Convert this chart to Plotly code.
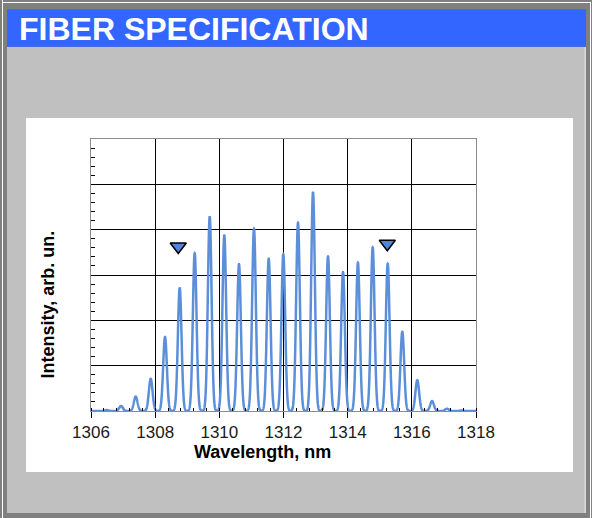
import numpy as np
import plotly.graph_objects as go

# ---- data ----
peak_nm = [1306.49, 1306.935, 1307.393, 1307.861, 1308.307, 1308.765, 1309.232,
           1309.700, 1310.155, 1310.613, 1311.080, 1311.539, 1311.994, 1312.452,
           1312.920, 1313.387, 1313.855, 1314.320, 1314.780, 1315.248, 1315.703,
           1316.170, 1316.630, 1317.096, 1317.550]
peak_int = [0.02, 0.11, 0.32, 0.71, 1.63, 2.71, 3.48, 4.29, 3.87, 3.24, 4.02,
            3.36, 3.46, 4.15, 4.83, 3.41, 3.06, 3.27, 3.61, 3.25, 1.75, 0.68,
            0.22, 0.05, 0.01]
marker_nm = [1308.72, 1315.235]
marker_int = [3.63, 3.69]
x_ticks = [1306, 1308, 1310, 1312, 1314, 1316, 1318]
x_labels = ["1306", "1308", "1310", "1312", "1314", "1316", "1318"]

# spectrum drawn as narrow line shapes at each mode
wl = np.linspace(1306, 1318, 6001)
sigma = 0.058
inten = np.zeros_like(wl)
for c, h in zip(peak_nm, peak_int):
    inten += h * np.exp(-0.5 * ((wl - c) / sigma) ** 2)

W, H = 592, 518
L, R, T, B = 91, 116, 139, 107
PW, PH = W - L - R, H - T - B


def px(x):
    return (x - L) / PW


def py(y):
    return (H - B - y) / PH


def rect(x0, y0, x1, y1, color):
    return dict(type="rect", xref="paper", yref="paper", layer="below",
                x0=px(x0), x1=px(x1), y0=py(y1), y1=py(y0),
                fillcolor=color, line=dict(width=0))


FONT = "Liberation Sans, Arial, sans-serif"

fig = go.Figure()
fig.add_trace(go.Scatter(x=wl, y=inten, mode="lines",
                         line=dict(color="#5b8fd9", width=2.5, simplify=False),
                         hoverinfo="skip", showlegend=False))
fig.add_trace(go.Scatter(x=marker_nm, y=marker_int, mode="markers",
                         marker=dict(symbol="triangle-down", size=14,
                                     color="#4f86d6",
                                     line=dict(color="black", width=1.5)),
                         showlegend=False, cliponaxis=False))

shapes = [
    rect(2, 0, 3, 518, "white"),
    rect(2, 2, 591, 3, "white"),
    rect(590, 2, 591, 518, "white"),
    rect(7, 47, 584.5, 513, "#c0c0c0"),
    rect(584.5, 47, 585.7, 513, "white"),
    rect(7, 9.3, 586, 46.7, "#3366ff"),
    rect(26, 118, 573, 472, "white"),
]

annotations = [
    dict(text="<b>FIBER SPECIFICATION</b>", xref="paper", yref="paper",
         x=px(17), y=py(28.5), xanchor="left", yanchor="middle",
         showarrow=False, font=dict(family=FONT, size=32, color="white")),
    dict(text="<b>Intensity, arb. un.</b>", xref="paper", yref="paper",
         x=px(47.5), y=py(305), xanchor="center", yanchor="middle",
         textangle=-90, showarrow=False,
         font=dict(family=FONT, size=18, color="black")),
    dict(text="<b>Wavelength, nm</b>", xref="paper", yref="paper",
         x=px(262), y=py(452), xanchor="center", yanchor="middle",
         showarrow=False, font=dict(family=FONT, size=18, color="black")),
]

fig.update_layout(
    width=W, height=H,
    margin=dict(l=L, r=R, t=T, b=B, pad=0),
    paper_bgcolor="#808080",
    plot_bgcolor="white",
    shapes=shapes,
    annotations=annotations,
    showlegend=False,
    hovermode=False,
    xaxis=dict(range=[1306, 1318], tickvals=x_ticks, ticktext=x_labels,
               ticks="outside", ticklen=6, tickcolor="black", tickwidth=1,
               tickfont=dict(family=FONT, size=17, color="#1a1a1a"),
               showgrid=True, gridcolor="black", gridwidth=1.3,
               showline=True, linecolor="#8c8c8c", linewidth=1, mirror=True,
               zeroline=False,
               minor=dict(dtick=0.4, tick0=1306, ticks="inside", ticklen=3,
                          tickcolor="black", showgrid=False)),
    yaxis=dict(range=[0, 6], dtick=1, showticklabels=False, ticks="",
               showgrid=True, gridcolor="black", gridwidth=1.3,
               showline=True, linecolor="#8c8c8c", linewidth=1, mirror=True,
               zeroline=False,
               minor=dict(dtick=0.2, tick0=0, ticks="inside", ticklen=4,
                          tickcolor="black", showgrid=False)),
)

fig.write_html("out.html", config={"displayModeBar": False})

# remove the default page margin so the figure sits at the window origin
with open("out.html", "r", encoding="utf-8") as f:
    html = f.read()
html = html.replace("<head>", "<head><style>html,body{margin:0;padding:0;"
                    "overflow:hidden;background:#808080;}</style>", 1)
with open("out.html", "w", encoding="utf-8") as f:
    f.write(html)
